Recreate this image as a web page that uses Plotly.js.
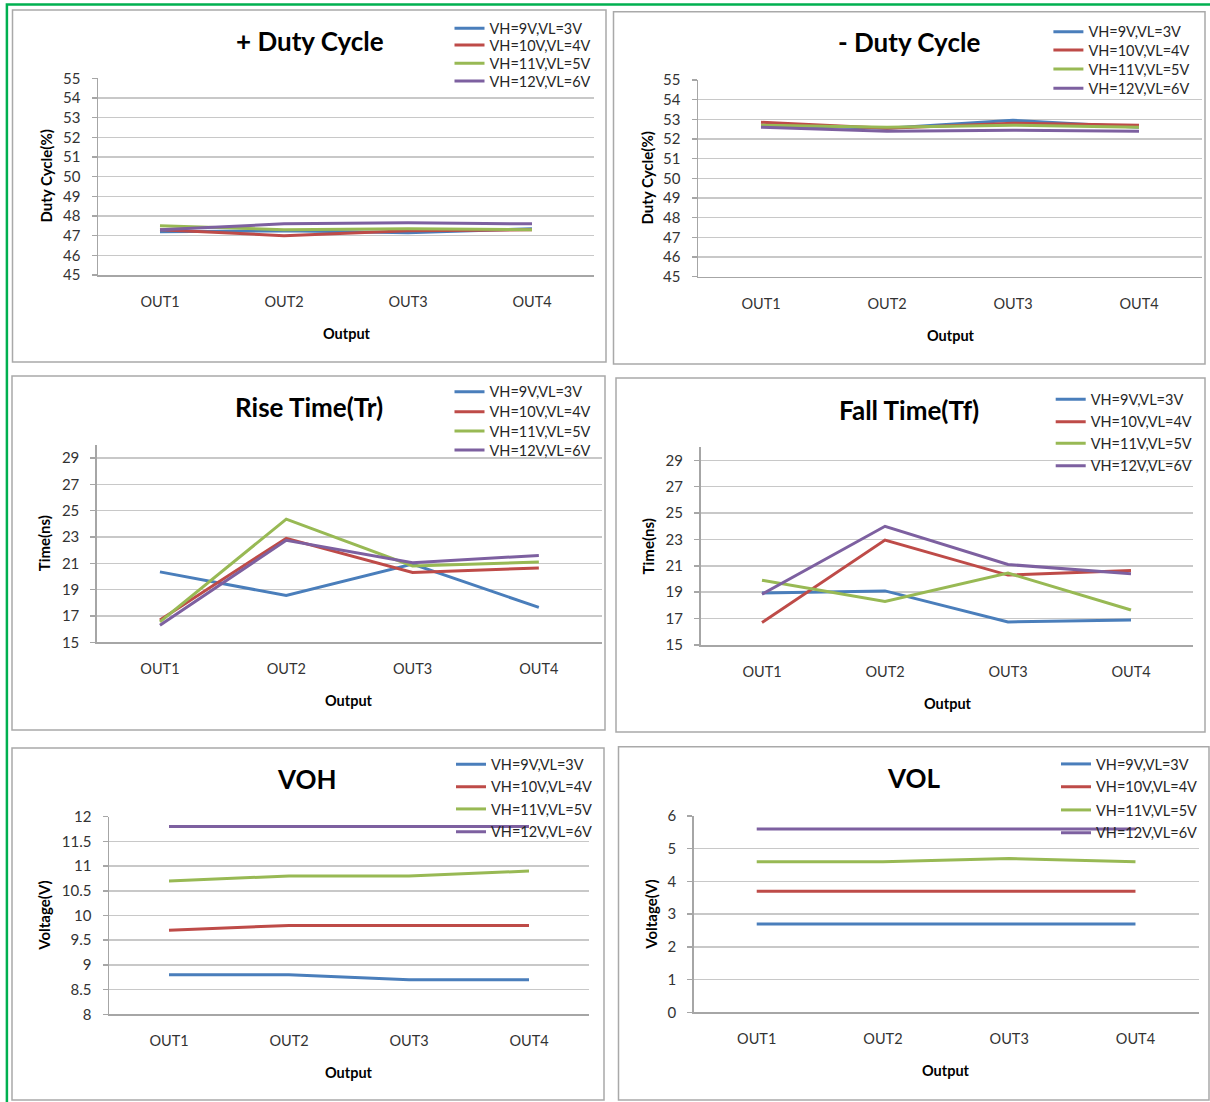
<!DOCTYPE html>
<html><head><meta charset="utf-8">
<script src="https://cdn.plot.ly/plotly-3.0.1.min.js"></script>
<style>html,body{margin:0;padding:0;background:#fff;} #chart{width:1210px;height:1102px;}</style>
</head><body><div id="chart"></div>
<script>
const categories = ['OUT1', 'OUT2', 'OUT3', 'OUT4'];
const seriesNames = ['VH=9V,VL=3V', 'VH=10V,VL=4V', 'VH=11V,VL=5V', 'VH=12V,VL=6V'];
const seriesColors = ['#4a7ebb', '#be4b48', '#98b954', '#7d60a0'];

// one row per series (VH=9V, 10V, 11V, 12V), one column per output
const posDutyCycle = [
  [47.2, 47.25, 47.15, 47.35],
  [47.3, 47.0, 47.25, 47.3],
  [47.5, 47.3, 47.35, 47.3],
  [47.3, 47.6, 47.65, 47.6]
];
const negDutyCycle = [
  [52.7, 52.55, 52.95, 52.6],
  [52.85, 52.55, 52.8, 52.7],
  [52.7, 52.6, 52.7, 52.6],
  [52.6, 52.4, 52.45, 52.4]
];
const riseTime = [
  [20.35, 18.55, 20.95, 17.65],
  [16.7, 22.9, 20.3, 20.65],
  [16.55, 24.35, 20.8, 21.1],
  [16.3, 22.75, 21.05, 21.6]
];
const fallTime = [
  [18.95, 19.1, 16.75, 16.9],
  [16.7, 22.95, 20.3, 20.65],
  [19.9, 18.3, 20.45, 17.65],
  [18.85, 24.0, 21.1, 20.4]
];
const vohValues = [
  [8.8, 8.8, 8.7, 8.7],
  [9.7, 9.8, 9.8, 9.8],
  [10.7, 10.8, 10.8, 10.9],
  [11.8, 11.8, 11.8, 11.8]
];
const volValues = [
  [2.7, 2.7, 2.7, 2.7],
  [3.7, 3.7, 3.7, 3.7],
  [4.6, 4.6, 4.7, 4.6],
  [5.6, 5.6, 5.6, 5.6]
];

const chartTitles = ['+ Duty Cycle', '- Duty Cycle', 'Rise Time(Tr)', 'Fall Time(Tf)', 'VOH', 'VOL'];
const yTitles = ['Duty Cycle(%)', 'Duty Cycle(%)', 'Time(ns)', 'Time(ns)', 'Voltage(V)', 'Voltage(V)'];
const xTitle = 'Output';
const yRanges = [[45, 55], [45, 55], [15, 30], [15, 30], [8, 12], [0, 6]];
const yTick0 = [45, 45, 15, 15, 8, 0];
const yDtick = [1, 1, 2, 2, 0.5, 1];
const chartData = [posDutyCycle, negDutyCycle, riseTime, fallTime, vohValues, volValues];

// ---- layout geometry (pixels) ----
const W = 1210, H = 1102;
const FONT = 'Lato, "Open Sans", sans-serif';
const panels = [
  {box: [12.5, 10, 606, 362],     plot: [98, 78.3, 594, 275],     title: [310, 40.8],   yt: [45.5, 176],   xt: [347, 333.3],  lx: 489.5, ly: [28.3, 45, 63.3, 81]},
  {box: [613.5, 11.7, 1205, 364], plot: [698, 80, 1202, 276.7],   title: [908.7, 42.5], yt: [646.5, 178],  xt: [951, 335.8],  lx: 1088.4, ly: [31.7, 50, 69, 88.3]},
  {box: [12, 376, 605, 730],      plot: [96.8, 444.8, 602, 642.3],title: [308.6, 407.5],yt: [44.3, 543],   xt: [349, 700.8],  lx: 489.5, ly: [391.7, 411.7, 431, 450]},
  {box: [616, 378, 1205, 732],    plot: [700.5, 447.1, 1192.5, 645], title: [909.5, 410], yt: [648.4, 546], xt: [947.5, 703.8], lx: 1090.7, ly: [399.3, 421.7, 443.3, 465.7]},
  {box: [12, 748, 604, 1100],     plot: [109, 816.7, 589, 1014.3],title: [307.4, 779],  yt: [44, 915.8],   xt: [349, 1072.5], lx: 491, ly: [764.3, 786.7, 809, 831.7]},
  {box: [618.5, 746.7, 1209, 1100], plot: [693.6, 816, 1198.6, 1012.3], title: [913.8, 778.3], yt: [650.3, 914.5], xt: [946.3, 1070.8], lx: 1096, ly: [764, 786.7, 810, 832.7]}
];
const px = v => v / W;
const py = v => 1 - v / H;

const traces = [];
const layout = {
  width: W, height: H,
  margin: {l: 0, r: 0, t: 0, b: 0},
  paper_bgcolor: '#ffffff', plot_bgcolor: 'rgba(0,0,0,0)',
  font: {family: FONT, size: 14, color: '#333333'},
  showlegend: true,
  annotations: [], shapes: []
};

// outer green frame
layout.shapes.push({type: 'rect', xref: 'paper', yref: 'paper',
  x0: px(6.9), x1: px(1216), y0: py(4.5), y1: py(1110),
  line: {color: '#00b050', width: 2.5}, fillcolor: 'rgba(0,0,0,0)', layer: 'below'});

let legendIndex = 0;
panels.forEach((p, k) => {
  const n = k + 1;
  const xa = 'xaxis' + (n === 1 ? '' : n);
  const ya = 'yaxis' + (n === 1 ? '' : n);
  layout[xa] = {
    domain: [px(p.plot[0]), px(p.plot[2])],
    anchor: 'y' + (n === 1 ? '' : n),
    type: 'category', categoryorder: 'array', categoryarray: categories,
    range: [-0.5, 3.5], fixedrange: true,
    showline: true, linecolor: '#a6a6a6', linewidth: 1.5,
    showgrid: false, zeroline: false, ticks: '',
    ticklabelstandoff: 13,
    tickfont: {family: FONT, size: 14.5, color: '#333333'}
  };
  layout[ya] = {
    domain: [py(p.plot[3]), py(p.plot[1])],
    anchor: 'x' + (n === 1 ? '' : n),
    range: yRanges[k], tick0: yTick0[k], dtick: yDtick[k], fixedrange: true,
    showline: true, linecolor: '#a6a6a6', linewidth: 1.5,
    showgrid: true, gridcolor: '#c8c8c8', gridwidth: 1.5, zeroline: false,
    ticks: 'outside', ticklen: 5, tickcolor: '#a6a6a6', tickwidth: 1.5,
    ticklabelstandoff: 8,
    tickfont: {family: FONT, size: 15, color: '#333333'}
  };

  chartData[k].forEach((vals, i) => {
    legendIndex += 1;
    const lgName = 'legend' + (legendIndex === 1 ? '' : legendIndex);
    traces.push({
      type: 'scatter', mode: 'lines',
      x: categories, y: vals, name: seriesNames[i],
      xaxis: 'x' + (n === 1 ? '' : n), yaxis: 'y' + (n === 1 ? '' : n),
      line: {color: seriesColors[i], width: 3},
      legend: lgName, hoverinfo: 'skip'
    });
    layout[lgName] = {
      x: px(p.lx - 40), y: py(p.ly[i]), xanchor: 'left', yanchor: 'middle',
      bgcolor: 'rgba(0,0,0,0)', borderwidth: 0,
      font: {family: FONT, size: 14.5, color: '#262626'}
    };
  });

  // panel frame
  layout.shapes.push({type: 'rect', xref: 'paper', yref: 'paper',
    x0: px(p.box[0]), x1: px(p.box[2]), y0: py(p.box[3]), y1: py(p.box[1]),
    line: {color: '#a9a9a9', width: 1.5}, fillcolor: 'rgba(0,0,0,0)', layer: 'below'});

  // chart title
  layout.annotations.push({xref: 'paper', yref: 'paper', x: px(p.title[0]), y: py(p.title[1]),
    xanchor: 'center', yanchor: 'middle', showarrow: false, text: chartTitles[k],
    font: {family: FONT, size: 26, color: '#000000', weight: 'bold'}});
  // y title
  layout.annotations.push({xref: 'paper', yref: 'paper', x: px(p.yt[0]), y: py(p.yt[1]),
    xanchor: 'center', yanchor: 'middle', showarrow: false, text: yTitles[k], textangle: -90,
    font: {family: FONT, size: 15, color: '#000000', weight: 'bold'}});
  // x title
  layout.annotations.push({xref: 'paper', yref: 'paper', x: px(p.xt[0]), y: py(p.xt[1]),
    xanchor: 'center', yanchor: 'middle', showarrow: false, text: xTitle,
    font: {family: FONT, size: 14.5, color: '#000000', weight: 'bold'}});
});

Plotly.newPlot('chart', traces, layout, {staticPlot: true, displayModeBar: false});
</script>
</body></html>
